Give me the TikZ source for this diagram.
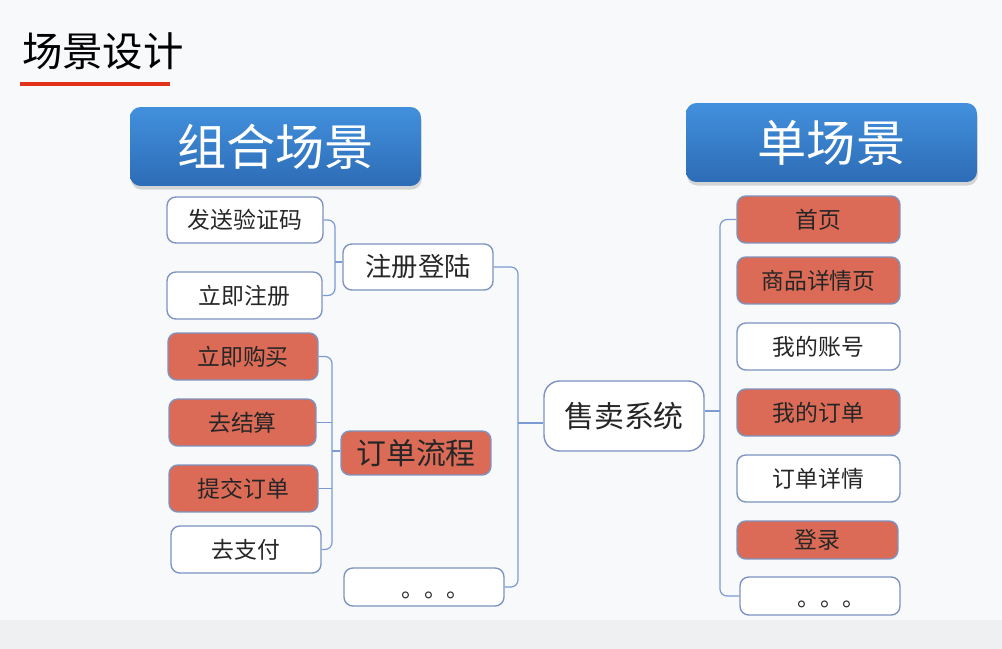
\documentclass[tikz,border=0pt]{standalone}
\usepackage{fontspec}
\newfontfamily\cjk{Noto Sans CJK SC}
\usetikzlibrary{positioning, shadows}
\definecolor{paper}{HTML}{F8F9FB}
\definecolor{floor}{HTML}{EFF0F2}
\definecolor{edge}{HTML}{7D93C2}
\definecolor{link}{HTML}{7A9BD4}
\definecolor{hotred}{HTML}{DB6B57}
\definecolor{headtop}{HTML}{4290DD}
\definecolor{headbot}{HTML}{2D6CB6}
\definecolor{titlered}{HTML}{E2321C}
\tikzset{
  box/.style={draw=edge, line width=0.8pt, rounded corners=5pt, fill=white, text=black!85,
    inner sep=0pt, minimum width=3.1cm, minimum height=0.94cm,
    font=\cjk\fontsize{13}{13}\selectfont},
  hot/.style={box, fill=hotred},
  big/.style={font=\cjk\fontsize{17}{17}\selectfont},
  head/.style={rounded corners=6pt, top color=headtop, bottom color=headbot, draw=none,
    text=white, minimum width=5.82cm, minimum height=1.58cm, inner sep=0pt,
    drop shadow={shadow xshift=0.5pt, shadow yshift=-2pt, opacity=0.3},
    font=\cjk\fontsize{28}{28}\selectfont},
  wire/.style={draw=link, line width=0.7pt, rounded corners=4pt}
}

\begin{document}
\begin{tikzpicture}[x=0.02cm, y=-0.02cm]
		% background
		\fill[paper] (0,0) rectangle (1002,649);
		\fill[floor] (0,620) rectangle (1002,649);
		\node[font=\cjk\fontsize{23}{23}\selectfont, text=black] (title) at (103,51) {场景设计};
		\draw[titlered, line width=2.4pt] (20,84) -- (170,84);
		\node[head] (combo) at (275.5,146.5) {组合场景};
		\node[head] (single) at (831.5,142.5) {单场景};
		% left side
		\node[box, minimum width=3.12cm, minimum height=0.92cm] (fsyzm) at (245,220) {发送验证码};
		\node[box, minimum height=0.94cm] (ljzc) at (244.5,295.5) {立即注册};
		\node[box, minimum width=3cm, minimum height=0.92cm, font=\cjk\fontsize{15}{15}\selectfont] (zcdl) at (418,267) {注册登陆};
		\node[hot, minimum width=3cm] (ljgm) at (243,356.5) {立即购买};
		\node[hot, minimum width=2.94cm] (qjs) at (242.5,422.5) {去结算};
		\node[hot, minimum width=2.98cm] (tjdd) at (243.5,488.5) {提交订单};
		\node[box, minimum width=3cm] (qzf) at (246,549.5) {去支付};
		\node[hot, big, minimum width=3cm, minimum height=0.88cm] (ddlc) at (416,453) {订单流程};
		\node[box, minimum width=3.2cm, minimum height=0.76cm] (more1) at (424,587) {\hspace*{1em}\raisebox{-6pt}[0pt][0pt]{。。。}};
		\node[box, big, minimum width=3.2cm, minimum height=1.4cm, rounded corners=9pt] (smxt) at (624,416) {售卖系统};
		% right side
		\node[hot, minimum width=3.26cm] (sy) at (818.5,219.5) {首页};
		\node[hot, minimum width=3.26cm] (spxqy) at (818.5,280.5) {商品详情页};
		\node[box, minimum width=3.26cm] (wdzh) at (818.5,346.5) {我的账号};
		\node[hot, minimum width=3.26cm] (wddd) at (818.5,412.5) {我的订单};
		\node[box, minimum width=3.26cm] (ddxq) at (818.5,478.5) {订单详情};
		\node[hot, minimum width=3.22cm, minimum height=0.76cm] (dl) at (817.5,540) {登录};
		\node[box, minimum width=3.2cm, minimum height=0.76cm] (more2) at (820,596) {\hspace*{1em}\raisebox{-6pt}[0pt][0pt]{。。。}};
		% brace bars
		\coordinate (bar1) at (335,262);
		\coordinate (bar2) at (332,451);
		\coordinate (bar3) at (518,423);
		\coordinate (bar4) at (720,411);
		\draw[wire] (fsyzm.east) -- (fsyzm.east -| bar1) -- (ljzc.east -| bar1) -- (ljzc.east);
		\draw[wire] (bar1) -- (zcdl.west |- bar1);
		\draw[wire] (ljgm.east) -- (ljgm.east -| bar2) -- (qzf.east -| bar2) -- (qzf.east);
		\draw[wire] (qjs.east) -- (qjs.east -| bar2);
		\draw[wire] (tjdd.east) -- (tjdd.east -| bar2);
		\draw[wire] (bar2) -- (ddlc.west |- bar2);
		\draw[wire] (zcdl.east) -- (zcdl.east -| bar3) -- (more1.east -| bar3) -- (more1.east);
		\draw[wire] (bar3) -- (smxt.west |- bar3);
		\draw[wire] (sy.west) -- (sy.west -| bar4) -- (more2.west -| bar4) -- (more2.west);
		\draw[wire] (smxt.east |- bar4) -- (bar4);
\end{tikzpicture}
\end{document}
